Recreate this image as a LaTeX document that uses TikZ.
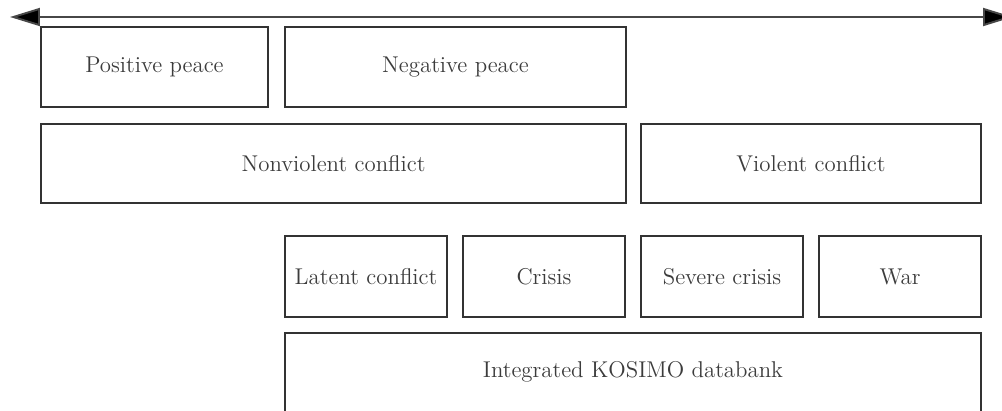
\documentclass[tikz,border=0pt]{standalone}
\usetikzlibrary{arrows.meta}
\definecolor{boxline}{HTML}{333333}
\definecolor{boxtext}{HTML}{3C3C3C}
\tikzset{
  stage/.style={draw=boxline, line width=0.8pt, text=boxtext, font=\fontsize{13}{15}\selectfont, minimum height=1.6cm, inner sep=0pt},
  scalearrow/.style={draw=boxline!90, line width=1.1pt, {Triangle[length=0.6cm, width=0.36cm, fill=black]}-{Triangle[length=0.6cm, width=0.36cm, fill=black]}}
}
\begin{document}
\begin{tikzpicture}[x=0.02cm, y=-0.02cm]
            \useasboundingbox (0,0) rectangle (1002,410);
            \clip (0,0) rectangle (1002,410);
            % Peace / conflict scale
            \coordinate (west) at (10,17);
            \coordinate (east) at (1013,17);
            \draw[scalearrow] (west) -- (east);
            % First row
            \node[stage, minimum width=4.54cm] (pospeace) at (154.5,67) {Positive peace};
            \node[stage, minimum width=6.82cm] (negpeace) at (455.5,67) {Negative peace};
            % Second row
            \node[stage, minimum width=11.7cm, minimum height=1.58cm] (nonviolent) at (333.5,163.5) {Nonviolent conflict};
            \node[stage, minimum width=6.8cm, minimum height=1.58cm] (violent) at (811,163.5) {Violent conflict};
            % Intensity levels
            \node[stage, minimum width=3.24cm, minimum height=1.62cm] (latent) at (366,276.5) {Latent conflict};
            \node[stage, minimum width=3.24cm, minimum height=1.62cm] (crisis) at (544,276.5) {Crisis};
            \node[stage, minimum width=3.24cm, minimum height=1.62cm] (severe) at (722,276.5) {Severe crisis};
            \node[stage, minimum width=3.24cm, minimum height=1.62cm] (war) at (900,276.5) {War};
            % Databank (cut off at the bottom)
            \node[stage, minimum width=13.92cm, minimum height=1.7cm] (kosimo) at (633,375.5) {};
            \node[text=boxtext, font=\fontsize{13}{15}\selectfont] (kosimolabel) at (633,372) {Integrated KOSIMO databank};
        \end{tikzpicture}
\end{document}
